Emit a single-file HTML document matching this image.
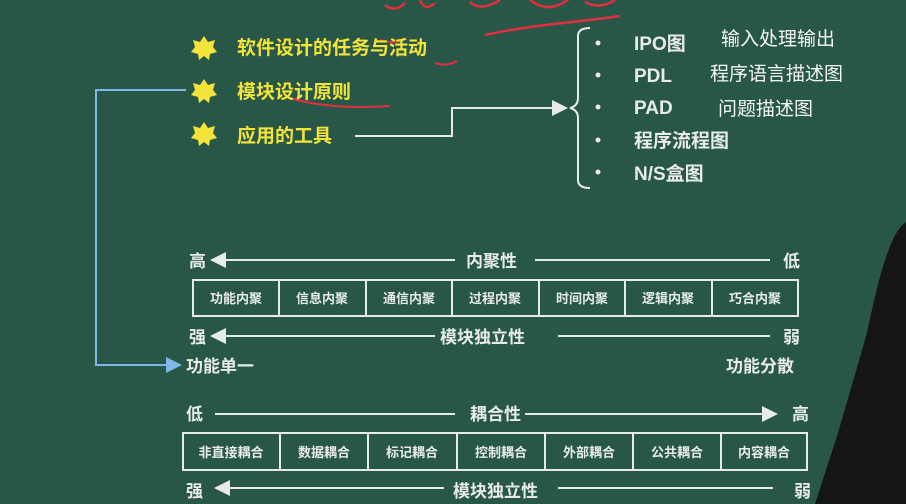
<!DOCTYPE html>
<html><head><meta charset="utf-8"><style>
html,body{margin:0;padding:0;}
body{width:906px;height:504px;overflow:hidden;background:#285747;}
svg{display:block}
text{font-family:"Liberation Sans","Noto Sans CJK SC",sans-serif;}
.y{fill:#f2e43a;font-weight:bold;font-size:19px;}
.w{fill:#e8ece8;font-weight:bold;}
.n{fill:#f4f6f4;font-size:19px;}
.c{fill:#e8ece8;font-weight:bold;font-size:13px;text-anchor:middle;}
</style></head><body>
<svg width="906" height="504" viewBox="0 0 906 504">
<defs>
<marker id="ar" markerWidth="8" markerHeight="8" refX="7" refY="4" orient="auto"><path d="M0,0 L8,4 L0,8 Z" fill="#e8ece8"/></marker>
<marker id="ab" markerWidth="8" markerHeight="8" refX="7" refY="4" orient="auto"><path d="M0,0 L8,4 L0,8 Z" fill="#7fb8e8"/></marker>
</defs>
<path d="M385,5 q10,8 20,-2 M420,0 q5,12 15,3 M470,2 q10,10 30,-2 M530,0 q20,15 40,-2 M585,2 q15,8 30,-2" stroke="#e03040" stroke-width="2.5" fill="none"/>
<path d="M485,35 C530,25 580,22 620,16" stroke="#e03040" stroke-width="2.5" fill="none"/>
<path d="M380,40 q15,5 25,-2 M435,63 q12,4 22,-2 M290,98 q40,12 100,8" stroke="#e03040" stroke-width="2" fill="none"/>
<g fill="#f2e43a">
<polygon points="204,36 208,42 215,40 213,47 217,52 210,54 209,60 204,56 199,60 198,54 191,52 195,47 193,40 200,42"/>
<polygon points="204,79 208,85 215,83 213,90 217,95 210,97 209,103 204,99 199,103 198,97 191,95 195,90 193,83 200,85"/>
<polygon points="204,122 208,128 215,126 213,133 217,138 210,140 209,146 204,142 199,146 198,140 191,138 195,133 193,126 200,128"/>
</g>
<text class="y" x="237" y="54">软件设计的任务与活动</text>
<text class="y" x="237" y="98">模块设计原则</text>
<text class="y" x="237" y="142">应用的工具</text>
<path d="M186,90 H96 V365 H180" stroke="#7fb8e8" stroke-width="2" fill="none" marker-end="url(#ab)"/>
<path d="M355,136 H452 V108 H566" stroke="#e8ece8" stroke-width="2" fill="none" marker-end="url(#ar)"/>
<path d="M590,28 Q578,28 578,36 V98 Q578,106 570,108 Q578,110 578,118 V180 Q578,188 590,188" stroke="#e8ece8" stroke-width="2" fill="none"/>
<g fill="#e8ece8"><circle cx="598" cy="43" r="2.5"/><circle cx="598" cy="75" r="2.5"/><circle cx="598" cy="107" r="2.5"/><circle cx="598" cy="140" r="2.5"/><circle cx="598" cy="172" r="2.5"/></g>
<g class="w" font-size="19">
<text x="634" y="50">IPO图</text><text x="634" y="82">PDL</text><text x="634" y="114">PAD</text><text x="634" y="147">程序流程图</text><text x="634" y="180">N/S盒图</text>
</g>
<text class="n" x="721" y="45">输入处理输出</text>
<text class="n" x="710" y="80">程序语言描述图</text>
<text class="n" x="718" y="115">问题描述图</text>
<g class="w" font-size="17">
<text x="189" y="267">高</text><text x="466" y="267">内聚性</text><text x="783" y="267">低</text>
<text x="189" y="343">强</text><text x="440" y="343">模块独立性</text><text x="783" y="343">弱</text>
<text x="186" y="372">功能单一</text><text x="726" y="372">功能分散</text>
<text x="186" y="420">低</text><text x="470" y="420">耦合性</text><text x="792" y="420">高</text>
<text x="186" y="497">强</text><text x="453" y="497">模块独立性</text><text x="794" y="497">弱</text>
</g>
<g stroke="#e8ece8" stroke-width="2" fill="none">
<line x1="455" y1="260" x2="212" y2="260" marker-end="url(#ar)"/>
<line x1="535" y1="260" x2="770" y2="260"/>
<line x1="435" y1="336" x2="212" y2="336" marker-end="url(#ar)"/>
<line x1="558" y1="336" x2="770" y2="336"/>
<line x1="215" y1="414" x2="455" y2="414"/>
<line x1="525" y1="414" x2="776" y2="414" marker-end="url(#ar)"/>
<line x1="444" y1="488" x2="216" y2="488" marker-end="url(#ar)"/>
<line x1="558" y1="488" x2="773" y2="488"/>
<rect x="193" y="280" width="605" height="36"/>
<line x1="279" y1="280" x2="279" y2="316"/><line x1="366" y1="280" x2="366" y2="316"/><line x1="452" y1="280" x2="452" y2="316"/><line x1="539" y1="280" x2="539" y2="316"/><line x1="625" y1="280" x2="625" y2="316"/><line x1="712" y1="280" x2="712" y2="316"/>
<rect x="183" y="433" width="624" height="37"/>
<line x1="280" y1="433" x2="280" y2="470"/><line x1="368" y1="433" x2="368" y2="470"/><line x1="457" y1="433" x2="457" y2="470"/><line x1="545" y1="433" x2="545" y2="470"/><line x1="633" y1="433" x2="633" y2="470"/><line x1="721" y1="433" x2="721" y2="470"/>
</g>
<g class="c">
<text x="236" y="303">功能内聚</text><text x="322" y="303">信息内聚</text><text x="409" y="303">通信内聚</text><text x="495" y="303">过程内聚</text><text x="582" y="303">时间内聚</text><text x="668" y="303">逻辑内聚</text><text x="755" y="303">巧合内聚</text>
<text x="231" y="457">非直接耦合</text><text x="324" y="457">数据耦合</text><text x="412" y="457">标记耦合</text><text x="501" y="457">控制耦合</text><text x="589" y="457">外部耦合</text><text x="677" y="457">公共耦合</text><text x="764" y="457">内容耦合</text>
</g>
<path d="M906,222 C890,232 878,280 867,333 L838,433 L815,504 L906,504 Z" fill="#151515"/>
</svg>
</body></html>
